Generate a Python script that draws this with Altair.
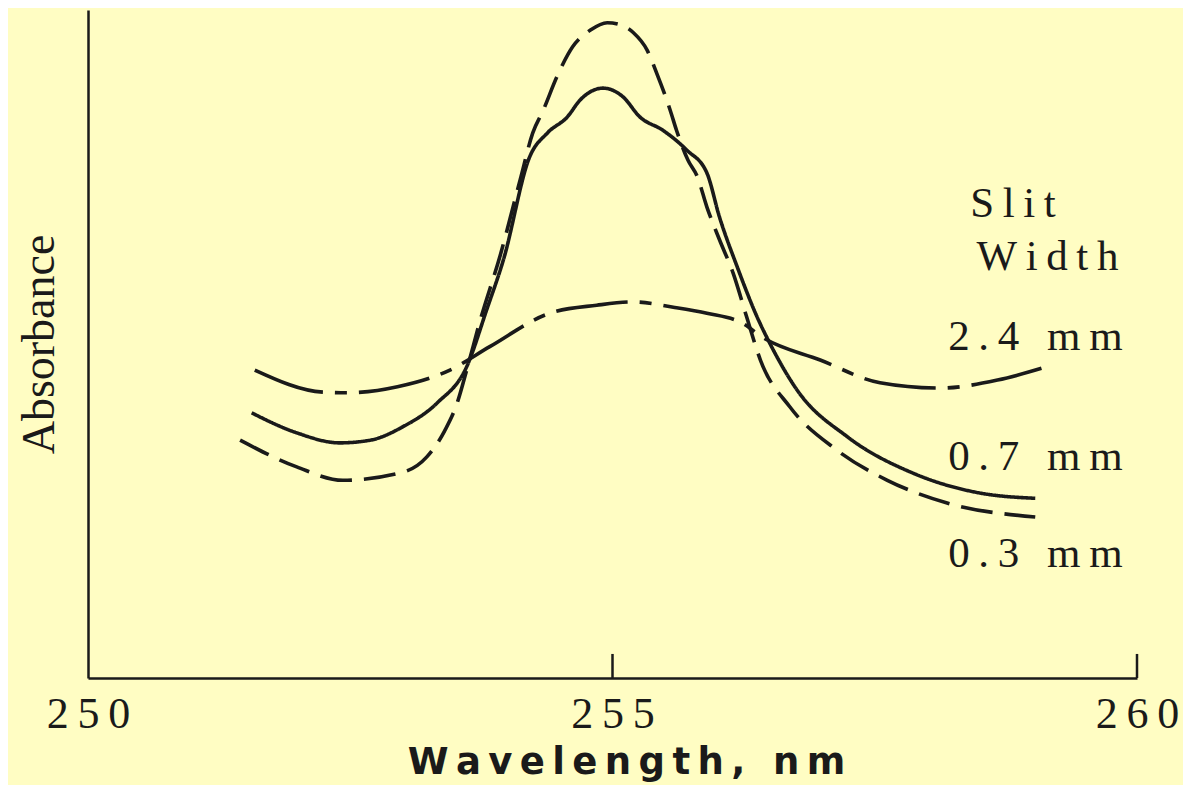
import altair as alt
import pandas as pd

# ---- data (wavelength nm, absorbance in arbitrary units 0-100) ----
wl_03 = [251.45, 251.99, 252.43, 253.00, 253.23, 253.40, 253.52, 253.61, 253.74, 253.93, 254.12,
         254.24, 254.34, 254.47, 254.62, 254.79, 254.95, 255.07, 255.20, 255.33, 255.42,
         255.55, 255.61, 255.72, 255.81, 255.90, 256.02, 256.15, 256.28, 256.41, 256.69,
         257.14, 257.62, 258.19, 259.03]
abs_03 = [35.6, 31.6, 29.6, 30.8, 33.1, 37.0, 41.2, 46.1, 53.6, 63.3, 74.6,
          81.6, 85.0, 90.0, 94.5, 97.0, 98.1, 97.8, 96.6, 94.0, 90.6,
          85.0, 82.0, 77.5, 75.0, 70.5, 65.6, 60.6, 54.0, 47.6, 40.6,
          34.1, 29.6, 26.2, 24.1]

wl_07 = [251.56, 251.99, 252.40, 252.69, 253.00, 253.33, 253.61, 253.80, 253.96, 254.21,
         254.38, 254.57, 254.69, 254.91, 255.10, 255.26, 255.48, 255.71, 255.90, 256.02,
         256.19, 256.38, 256.50, 256.76, 257.24, 257.86, 258.50, 259.03]
abs_07 = [39.7, 36.7, 35.2, 35.6, 37.6, 41.2, 46.6, 55.1, 62.6, 78.0,
          81.6, 84.0, 86.5, 88.3, 87.0, 84.0, 82.0, 79.0, 75.6, 69.0,
          61.5, 54.0, 50.1, 43.1, 36.1, 30.7, 27.7, 26.9]

wl_24 = [251.59, 252.24, 252.47, 252.95, 253.45, 253.83, 254.40, 254.85, 255.20, 255.58,
         255.90, 256.24, 256.43, 256.98, 257.55, 258.12, 258.67, 259.14]
abs_24 = [46.1, 42.8, 42.7, 43.6, 46.1, 49.6, 54.6, 55.8, 56.3, 55.5,
          54.6, 53.1, 51.0, 47.6, 44.2, 43.4, 44.6, 46.6]

series_names = ["0.3 mm", "0.7 mm", "2.4 mm"]
tick_values = [250, 255, 260]
header_lines = ["Slit", "Width"]

THIN = "\u2009"


def spaced(s):
    return THIN.join(list(s))


BG = "#FFFDC3"
INK = "#1a1a1a"

x_scale = alt.Scale(domain=[250, 260], nice=False, zero=False)
y_scale = alt.Scale(domain=[0, 100], nice=False, zero=False)

x_axis = alt.Axis(
    values=tick_values, grid=False, ticks=False, tickSize=0,
    domain=True, domainColor=INK, domainWidth=2.5,
    labelFont="Liberation Serif", labelFontSize=44, labelColor=INK,
    labelPadding=14, labelFlush=False, labelOverlap=False,
    labelExpr="join(split(datum.label, ''), '" + THIN + "')",
    title=spaced("Wavelength, nm"), titleFont="DejaVu Sans", titleFontWeight="bold",
    titleFontSize=37, titleColor=INK, titleX=538, titleY=95,
    titleAlign="center", titleBaseline="alphabetic",
)
y_axis = alt.Axis(
    grid=False, ticks=False, labels=False, domain=True,
    domainColor=INK, domainWidth=2.5,
    title="Absorbance", titleFont="Liberation Serif", titleFontWeight="normal",
    titleFontSize=46, titleColor=INK, titleAngle=270, titleX=-35, titleY=334,
    titleAlign="center", titleBaseline="alphabetic",
)


def X(field="wl:Q"):
    return alt.X(field, scale=x_scale, axis=x_axis)


def Y(field="A:Q"):
    return alt.Y(field, scale=y_scale, axis=y_axis)


frames = {}
for name, wl, ab in [("0.3 mm", wl_03, abs_03), ("0.7 mm", wl_07, abs_07), ("2.4 mm", wl_24, abs_24)]:
    frames[name] = pd.DataFrame({"wl": wl, "A": ab, "series": name})

dash_styles = {"0.3 mm": [32, 12], "0.7 mm": [1, 0], "2.4 mm": [72, 12, 12, 12]}

layers = []
for name in series_names:
    line = alt.Chart(frames[name]).mark_line(
        color=INK, strokeWidth=3.6, interpolate="monotone",
        strokeDash=dash_styles[name], strokeCap="butt",
    ).encode(x=X(), y=Y(), order="wl:Q")
    layers.append(line)

# inward tick marks on the wavelength axis
ticks_df = pd.DataFrame({"wl": [255, 260]})
ticks = alt.Chart(ticks_df).mark_rule(color=INK, strokeWidth=2.5).encode(
    x=X(),
    y=alt.datum(0),
    y2=alt.datum(3.6),
)
layers.append(ticks)

# slit width annotations
ann_df = pd.DataFrame({
    "label": [spaced(t) for t in header_lines] + [spaced(s).replace(" ", "  ") for s in ["2.4 mm", "0.7 mm", "0.3 mm"]],
    "wl": [258.41, 258.47, 258.20, 258.20, 258.20],
    "A": [69.0, 61.1, 49.1, 31.1, 16.6],
})
ann = alt.Chart(ann_df).mark_text(
    align="left", baseline="alphabetic", font="Liberation Serif",
    fontSize=43, color=INK,
).encode(
    x=X(),
    y=Y(),
    text="label:N",
)
layers.append(ann)

chart = alt.layer(*layers).properties(
    width=1049, height=668,
    autosize=alt.AutoSizeParams(type="none"),
    padding={"left": 80, "top": 2, "right": 46, "bottom": 107},
    background=BG,
).configure_view(stroke=None, fill=BG)

chart.save("out.html", embed_options={"renderer": "svg", "actions": False})
